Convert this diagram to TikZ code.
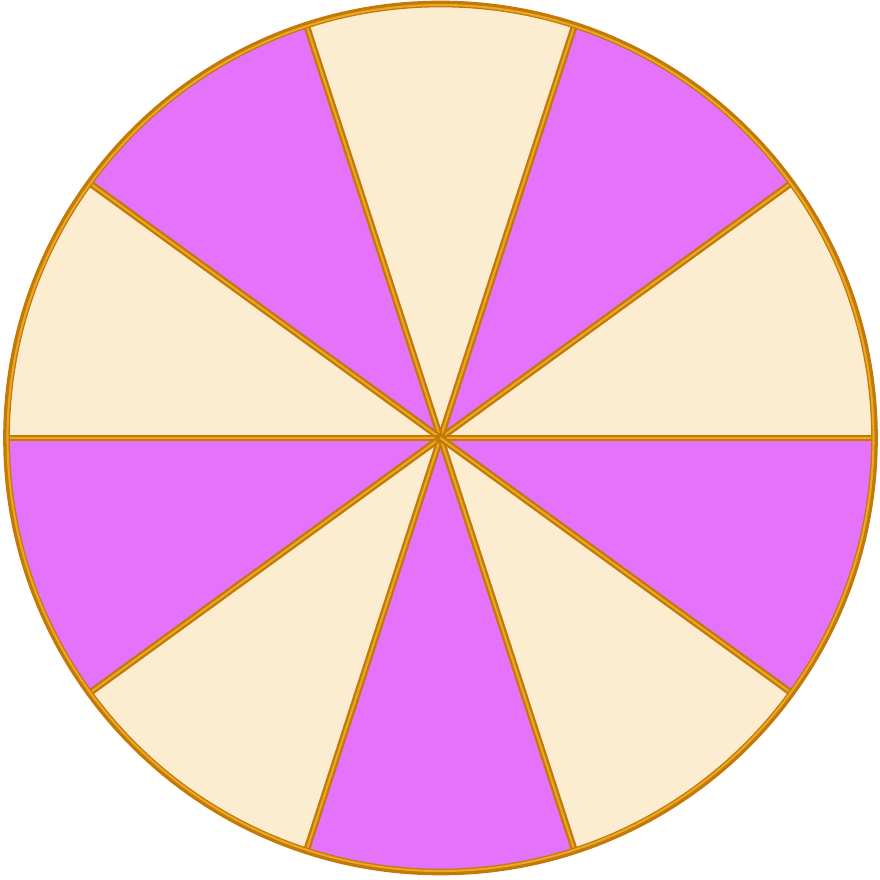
\documentclass[tikz,border=0pt]{standalone}
\usepackage{tikz}
\usetikzlibrary{calc}
\definecolor{wheelPurple}{HTML}{E472FA}
\definecolor{wheelCream}{HTML}{FCECD0}
\definecolor{wheelGold}{HTML}{C47806}
\definecolor{wheelShine}{HTML}{E8A826}
\tikzset{
  sector/.style={
    draw=none
  },
  rim/.style={
    draw=wheelGold,
    line width=1.9pt,
    line cap=round,
    line join=round
  },
  shine/.style={
    draw=wheelShine,
    line width=0.6pt,
    line cap=round
  }
}
\def\wheelRadius{4.34}

\begin{document}
\begin{tikzpicture}
  % Same proportions as the 880 x 880 reference
  \useasboundingbox (0,0) rectangle (8.8,8.8);

  \coordinate (O) at (4.405,4.42);

  % Ten sectors of 36 degrees, cream and purple in turn
  \foreach \i in {0,...,9} {
    \pgfmathsetmacro{\startA}{36*\i}
    \pgfmathsetmacro{\endA}{36*(\i+1)}
    \ifodd\i
      \def\sectorColor{wheelPurple}
    \else
      \def\sectorColor{wheelCream}
    \fi
    \fill[sector, fill=\sectorColor] (O) -- ++(\startA:\wheelRadius)
      arc[start angle=\startA, end angle=\endA, radius=\wheelRadius] -- cycle;
    \coordinate (R\i) at ($(O)+(\startA:\wheelRadius)$);
  }

  % Spokes from the hub to the rim
  \foreach \i in {0,...,9} {
    \draw[rim] (O) -- (R\i);
    \draw[shine] (O) -- (R\i);
  }

  % Outer rim
  \draw[rim] (O) circle[radius=\wheelRadius];
  \draw[shine] (O) circle[radius=\wheelRadius-0.01];
\end{tikzpicture}
\end{document}
